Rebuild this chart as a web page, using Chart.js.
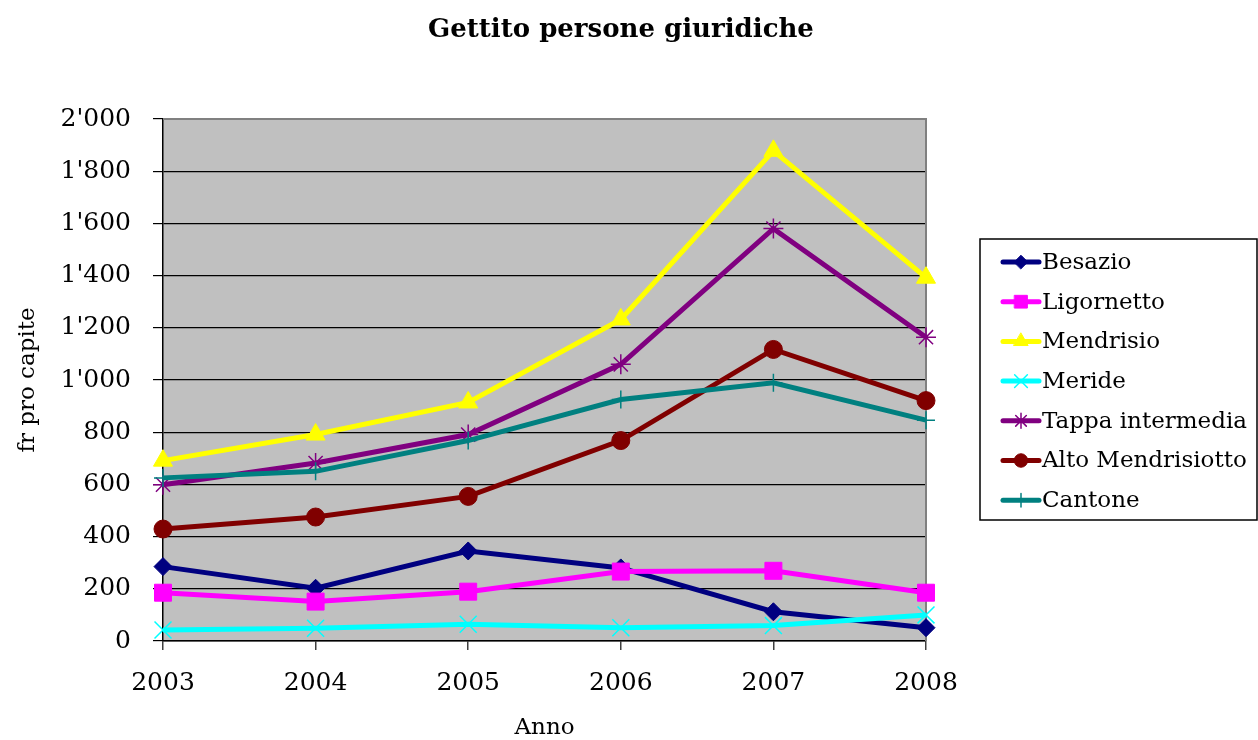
<!DOCTYPE html>
<html>
<head>
<meta charset="utf-8">
<script src="https://cdn.jsdelivr.net/npm/chart.js@4"></script>
<style>
  html, body { margin: 0; padding: 0; background: #fff; }
  #box { width: 1258px; height: 740px; }
</style>
</head>
<body>
<div id="box"><canvas id="grafico"></canvas></div>
<script>
// dati
const anni = ["2003", "2004", "2005", "2006", "2007", "2008"];
const besazio = [285, 202, 345, 280, 112, 51];
const ligornetto = [185, 151, 189, 266, 269, 185];
const mendrisio = [691, 791, 914, 1232, 1878, 1392];
const meride = [42, 49, 64, 51, 59, 100];
const tappaIntermedia = [599, 682, 791, 1060, 1580, 1164];
const altoMendrisiotto = [429, 475, 554, 768, 1117, 921];
const cantone = [625, 650, 768, 925, 989, 846];

const titolo = "Gettito persone giuridiche";

const serie = [
  { nome: "Besazio", dati: besazio, colore: "#000080", punto: "rectRot", r: 9, bw: 1 },
  { nome: "Ligornetto", dati: ligornetto, colore: "#FF00FF", punto: "rect", r: 12, bw: 1 },
  { nome: "Mendrisio", dati: mendrisio, colore: "#FFFF00", punto: "triangle", r: 11, bw: 1 },
  { nome: "Meride", dati: meride, colore: "#00FFFF", punto: "crossRot", r: 12, bw: 1.5 },
  { nome: "Tappa intermedia", dati: tappaIntermedia, colore: "#800080", punto: "star", r: 10, bw: 1.5 },
  { nome: "Alto Mendrisiotto", dati: altoMendrisiotto, colore: "#800000", punto: "circle", r: 9, bw: 1 },
  { nome: "Cantone", dati: cantone, colore: "#008080", punto: "cross", r: 9, bw: 1.5 },
];

const FONT = "'DejaVu Serif', 'Liberation Serif', serif";

function formatoMigliaia(v) {
  if (v < 1000) return String(v);
  return Math.floor(v / 1000) + "'" + String(v % 1000).padStart(3, "0");
}

// sfondo grigio dell'area del grafico + titolo centrato sulla pagina
const sfondo = {
  id: "sfondo",
  beforeDraw(chart) {
    const { ctx, chartArea: a } = chart;
    ctx.save();
    ctx.fillStyle = "#C0C0C0";
    ctx.fillRect(a.left, a.top, a.right - a.left, a.bottom - a.top);
    ctx.fillStyle = "#000";
    ctx.font = "bold 26px " + FONT;
    ctx.textAlign = "center";
    ctx.textBaseline = "middle";
    ctx.fillText(titolo, 621, 30);
    ctx.restore();
  },
  beforeDatasetsDraw(chart) {
    const { ctx, chartArea: a } = chart;
    ctx.save();
    ctx.strokeStyle = "#808080";
    ctx.lineWidth = 2;
    ctx.beginPath();
    ctx.moveTo(a.left, a.top);
    ctx.lineTo(a.right, a.top);
    ctx.lineTo(a.right, a.bottom);
    ctx.stroke();
    ctx.restore();
  },
};

// legenda con riquadro, come in Excel
const legenda = {
  id: "legenda",
  afterDraw(chart) {
    const { ctx } = chart;
    const x0 = 980, y0 = 239, w = 277, h = 281;
    ctx.save();
    ctx.fillStyle = "#fff";
    ctx.fillRect(x0, y0, w, h);
    ctx.strokeStyle = "#000";
    ctx.lineWidth = 1.5;
    ctx.strokeRect(x0, y0, w, h);
    chart.data.datasets.forEach((ds, i) => {
      const y = 262 + i * 39.7;
      ctx.strokeStyle = ds.borderColor;
      ctx.lineWidth = 5;
      ctx.lineCap = "round";
      ctx.beginPath();
      ctx.moveTo(1003, y);
      ctx.lineTo(1039, y);
      ctx.stroke();
      ctx.fillStyle = ds.borderColor;
      ctx.strokeStyle = ds.borderColor;
      ctx.lineWidth = ds.pointBorderWidth;
      Chart.helpers.drawPoint(ctx, {
        pointStyle: ds.pointStyle,
        radius: ds.pointRadius * 0.75,
        rotation: 0,
        borderWidth: ds.pointBorderWidth,
      }, 1021, y);
      ctx.fillStyle = "#000";
      ctx.font = "23px " + FONT;
      ctx.textAlign = "left";
      ctx.textBaseline = "middle";
      ctx.fillText(ds.label, 1042, y + 1);
    });
    ctx.restore();
  },
};

const ctxGrafico = document.querySelector("#grafico");

new Chart(ctxGrafico, {
  type: "line",

  data: {
    labels: anni,
    datasets: serie.map((s, i) => ({
      label: s.nome,
      data: s.dati,
      borderColor: s.colore,
      backgroundColor: s.colore,
      borderWidth: 5,
      pointStyle: s.punto,
      pointRadius: s.r,
      pointBorderWidth: s.bw,
      pointBorderColor: s.colore,
      pointBackgroundColor: s.colore,
      tension: 0,
      order: -i,
    })),
  },

  options: {
    responsive: true,
    maintainAspectRatio: false,
    animation: false,
    layout: { padding: { left: 0, right: 332, top: 119, bottom: 0 } },
    plugins: {
      legend: { display: false },
      tooltip: { enabled: false },
      title: { display: false },
    },
    scales: {
      x: {
        offset: false,
        grid: { drawOnChartArea: false, drawTicks: true, tickLength: 9, color: "#404040", lineWidth: 1.5 },
        border: { color: "#000", width: 1.5 },
        ticks: { color: "#000", font: { family: FONT, size: 25 }, padding: 18, maxRotation: 0 },
        title: {
          display: true,
          text: "Anno",
          color: "#000",
          font: { family: FONT, size: 23, lineHeight: 1.0 },
          padding: 0,
        },
        afterFit(scale) { scale.height = 99; },
      },
      y: {
        min: 0,
        max: 2000,
        grid: { color: "#000", lineWidth: 1.2, tickLength: 10 },
        border: { color: "#000", width: 1.5 },
        ticks: {
          stepSize: 200,
          color: "#000",
          font: { family: FONT, size: 25 },
          padding: 22,
          callback: (v) => formatoMigliaia(v),
        },
        title: {
          display: true,
          text: "fr pro capite",
          color: "#000",
          font: { family: FONT, size: 23 },
          padding: { top: 14, bottom: 0 },
        },
        afterFit(scale) { scale.width = 163; },
      },
    },
  },
  plugins: [sfondo, legenda],
});
</script>
</body>
</html>
